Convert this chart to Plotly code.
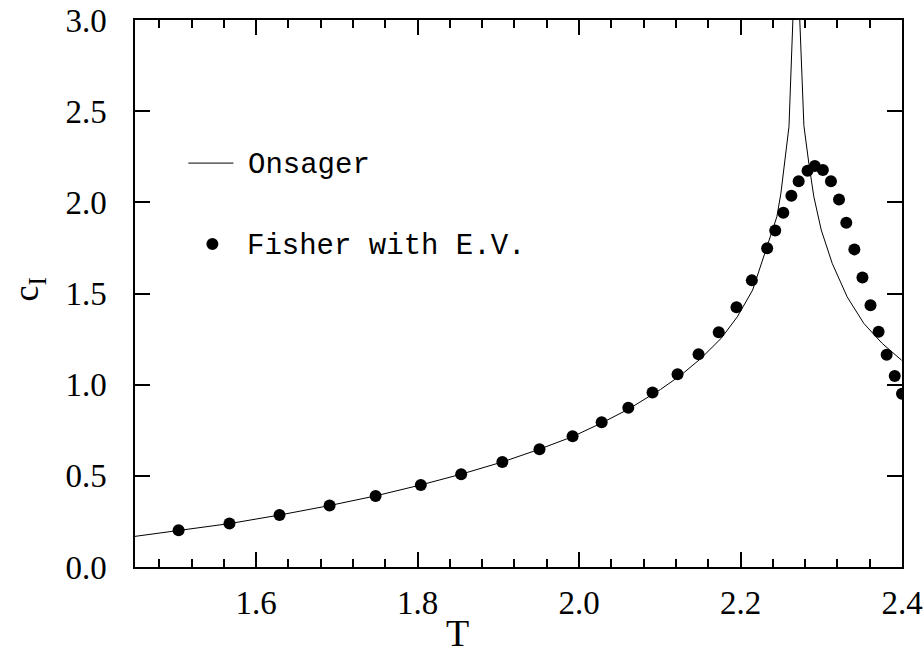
import plotly.graph_objects as go

# Onsager exact specific heat
onsager_T = [1.45, 1.504, 1.567, 1.629, 1.691, 1.748, 1.804, 1.854, 1.905, 1.951,
             1.992, 2.028, 2.061, 2.101, 2.126, 2.151, 2.176, 2.196, 2.215, 2.233,
             2.245, 2.250, 2.254, 2.260, 2.269,
             2.2785, 2.2846, 2.2908, 2.300, 2.3136, 2.332, 2.3527, 2.3755, 2.3995]
onsager_C = [0.168, 0.200, 0.238, 0.285, 0.337, 0.390, 0.450, 0.509, 0.576, 0.646,
             0.715, 0.790, 0.865, 0.974, 1.052, 1.144, 1.254, 1.372, 1.519, 1.760,
             1.921, 2.049, 2.195, 2.415, 3.50,
             2.420, 2.214, 2.031, 1.848, 1.665, 1.482, 1.336, 1.226, 1.134]

# Fisher with E.V. (dots)
fisher_T = [1.504, 1.567, 1.629, 1.691, 1.748, 1.804, 1.854, 1.905, 1.951, 1.992,
            2.028, 2.061, 2.091, 2.122, 2.148, 2.173, 2.195, 2.214, 2.233, 2.243,
            2.253, 2.263, 2.272, 2.283, 2.292, 2.302, 2.312, 2.322, 2.331, 2.341,
            2.351, 2.361, 2.371, 2.381, 2.391, 2.400]
fisher_C = [0.201, 0.238, 0.285, 0.337, 0.390, 0.450, 0.509, 0.576, 0.646, 0.717,
            0.794, 0.873, 0.957, 1.057, 1.167, 1.288, 1.424, 1.572, 1.748, 1.846,
            1.943, 2.036, 2.116, 2.173, 2.199, 2.177, 2.115, 2.016, 1.888, 1.742,
            1.588, 1.436, 1.290, 1.164, 1.047, 0.950]

x_ticks = [1.6, 1.8, 2.0, 2.2, 2.4]
x_ticklabels = ["1.6", "1.8", "2.0", "2.2", "2.4"]
y_ticks = [0.0, 0.5, 1.0, 1.5, 2.0, 2.5, 3.0]
y_ticklabels = ["0.0", "0.5", "1.0", "1.5", "2.0", "2.5", "3.0"]

SERIF = "Liberation Serif"
MONO = "Liberation Mono"

PW, PH = 767.1, 546.7  # plot area size in px

fig = go.Figure()
fig.add_trace(go.Scatter(x=onsager_T, y=onsager_C, mode="lines",
                         line=dict(color="black", width=1), name="Onsager",
                         showlegend=False))
fig.add_trace(go.Scatter(x=fisher_T, y=fisher_C, mode="markers",
                         marker=dict(color="black", size=12, line=dict(width=0)),
                         name="Fisher with E.V.", showlegend=False))

# Legend drawn manually (paper coordinates)
fig.add_shape(type="line", xref="paper", yref="paper",
              x0=0.0696, x1=0.1283, y0=0.7384, y1=0.7384,
              line=dict(color="black", width=1))
fig.add_shape(type="circle", xref="paper", yref="paper",
              x0=0.1009 - 6 / PW, x1=0.1009 + 6 / PW,
              y0=0.5903 - 6 / PH, y1=0.5903 + 6 / PH,
              fillcolor="black", line=dict(width=0))
fig.add_annotation(text="Onsager", xref="paper", yref="paper", x=0.1452, y=0.7384 - 2 / PH,
                   xanchor="left", yanchor="middle", showarrow=False,
                   font=dict(family=MONO, size=29, color="black"))
fig.add_annotation(text="Fisher with E.V.", xref="paper", yref="paper", x=0.1439,
                   y=0.5903 - 2 / PH,
                   xanchor="left", yanchor="middle", showarrow=False,
                   font=dict(family=MONO, size=29, color="black"))

# Axis titles
fig.add_annotation(text="T", xref="paper", yref="paper",
                   x=(457 - 134.6) / PW, y=-(633 - 566.7) / PH,
                   xanchor="center", yanchor="middle", showarrow=False,
                   font=dict(family=SERIF, size=38, color="black"))
fig.add_annotation(text="c<sub>I</sub>", xref="paper", yref="paper",
                   x=-(134.6 - 28) / PW, y=(566.7 - 289) / PH,
                   xanchor="center", yanchor="middle", showarrow=False, textangle=-90,
                   font=dict(family=SERIF, size=36, color="black"))

axis_common = dict(showgrid=False, zeroline=False, showline=True, linecolor="black",
                   linewidth=1.5, mirror="allticks", ticks="inside", tickcolor="black",
                   tickwidth=1.5, ticklen=15, automargin=False,
                   tickfont=dict(family=SERIF, size=33, color="black"))

fig.update_xaxes(range=[1.45, 2.4], tickvals=x_ticks, ticktext=x_ticklabels,
                 ticklabelstandoff=6,
                 minor=dict(ticks="inside", ticklen=8, dtick=0.04, tick0=0,
                            tickcolor="black", tickwidth=1.5, showgrid=False),
                 **axis_common)
fig.update_yaxes(range=[0, 3], tickvals=y_ticks, ticktext=y_ticklabels,
                 ticklabelstandoff=20, **axis_common)

fig.update_layout(width=923, height=656, plot_bgcolor="white", paper_bgcolor="white",
                  margin=dict(l=134.6, r=21.3, t=20, b=89.3, autoexpand=False),
                  showlegend=False)

fig.write_html("out.html")
